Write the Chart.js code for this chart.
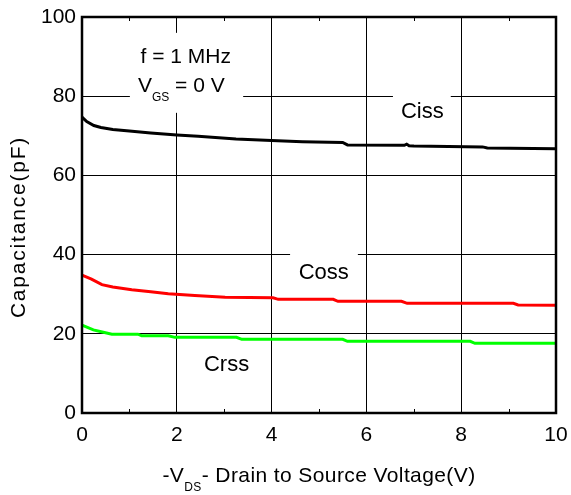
<!DOCTYPE html>
<html>
<head>
<meta charset="utf-8">
<script src="https://cdn.jsdelivr.net/npm/chart.js@4/dist/chart.umd.min.js"></script>
<style>
  html, body { margin: 0; padding: 0; background: #fff; }
</style>
</head>
<body>
<canvas id="capChart" width="571" height="495"></canvas>
<script>
// Axis ticks
const xTicks = [0, 2, 4, 6, 8, 10];
const yTicks = [0, 20, 40, 60, 80, 100];
const minorX = [1, 3, 5, 7, 9];

// Ciss curve (V, pF)
const cissV = [0, 0.1, 0.25, 0.4, 0.65, 1.0, 1.45, 2.0, 2.45, 3.25, 4.0, 4.65, 5.5, 5.6, 6.8, 6.85, 6.9, 7.0, 8.45, 8.55, 10];
const cissC = [74.7, 73.6, 72.6, 72.1, 71.6, 71.2, 70.7, 70.2, 69.9, 69.2, 68.8, 68.5, 68.3, 67.7, 67.6, 67.9, 67.5, 67.4, 67.2, 66.9, 66.7];

// Coss curve
const cossV = [0, 0.2, 0.42, 0.65, 1.05, 1.45, 1.82, 2.38, 3.02, 4.03, 4.14, 5.3, 5.4, 6.74, 6.86, 9.1, 9.2, 10];
const cossC = [34.8, 33.8, 32.4, 31.8, 31.1, 30.6, 30.1, 29.7, 29.2, 29.1, 28.7, 28.7, 28.2, 28.2, 27.7, 27.7, 27.3, 27.2];

// Crss curve
const crssV = [0, 0.24, 0.45, 0.63, 1.18, 1.26, 1.82, 1.96, 3.26, 3.37, 5.5, 5.6, 8.19, 8.29, 10];
const crssC = [22.2, 21.0, 20.4, 19.9, 19.9, 19.5, 19.5, 19.1, 19.1, 18.6, 18.6, 18.1, 18.1, 17.6, 17.6];

const FONT = "'Liberation Sans', Arial, sans-serif";

function toPoints(xs, ys) {
    return xs.map((v, i) => ({ x: v, y: ys[i] }));
}

// draws a run of [text, isSub] pieces starting at x, baseline y
function drawRich(ctx, parts, x, y, size, subSize, align) {
    const widths = parts.map(p => {
        ctx.font = (p[1] ? subSize : size) + 'px ' + FONT;
        return ctx.measureText(p[0]).width;
    });
    const total = widths.reduce((a, b) => a + b, 0);
    let cx = align === 'center' ? x - total / 2 : x;
    ctx.textAlign = 'left';
    ctx.textBaseline = 'alphabetic';
    parts.forEach((p, i) => {
        ctx.font = (p[1] ? subSize : size) + 'px ' + FONT;
        ctx.fillText(p[0], cx, p[1] ? y + 9 : y);
        cx += widths[i];
    });
}

const decorPlugin = {
    id: 'decor',
    beforeDatasetsDraw(chart) {
        const { ctx, scales: { x, y }, chartArea } = chart;
        ctx.save();

        // white boxes that break the grid behind the labels
        ctx.fillStyle = '#fff';
        const gaps = [
            [1.01, 3.40, 96, 75.8],
            [6.56, 7.78, 82, 77.5],
            [4.39, 5.82, 41.7, 37.1]
        ];
        gaps.forEach(g => {
            const x0 = x.getPixelForValue(g[0]), x1 = x.getPixelForValue(g[1]);
            const y0 = y.getPixelForValue(g[2]), y1 = y.getPixelForValue(g[3]);
            ctx.fillRect(x0, y0, x1 - x0, y1 - y0);
        });

        // minor ticks on top and bottom
        ctx.strokeStyle = '#000';
        ctx.lineWidth = 1;
        minorX.forEach(v => {
            const px = Math.round(x.getPixelForValue(v)) + 0.5;
            ctx.beginPath();
            ctx.moveTo(px, chartArea.bottom);
            ctx.lineTo(px, chartArea.bottom - 4);
            ctx.moveTo(px, chartArea.top);
            ctx.lineTo(px, chartArea.top + 4);
            ctx.stroke();
        });

        // labels
        ctx.fillStyle = '#000';
        ctx.font = '21px ' + FONT;
        ctx.textAlign = 'center';
        ctx.textBaseline = 'alphabetic';
        ctx.fillText('f = 1 MHz', x.getPixelForValue(2.19), y.getPixelForValue(88.4));
        drawRich(ctx, [['V', false], ['GS', true], [' = 0 V', false]],
            x.getPixelForValue(1.18), y.getPixelForValue(81.1), 21, 12, 'left');

        ctx.font = '22px ' + FONT;
        ctx.textAlign = 'center';
        ctx.textBaseline = 'middle';
        ctx.fillText('Ciss', x.getPixelForValue(7.18), y.getPixelForValue(76));
        ctx.fillText('Coss', x.getPixelForValue(5.1), y.getPixelForValue(35.4));
        ctx.fillText('Crss', x.getPixelForValue(3.05), y.getPixelForValue(12.1));
        ctx.restore();
    },
    afterDraw(chart) {
        const { ctx, chartArea } = chart;
        ctx.save();
        // frame
        ctx.strokeStyle = '#000';
        ctx.lineWidth = 2.5;
        ctx.strokeRect(chartArea.left, chartArea.top, chartArea.right - chartArea.left, chartArea.bottom - chartArea.top);

        // axis titles
        ctx.fillStyle = '#000';
        ctx.letterSpacing = '0.4px';
        drawRich(ctx, [['-V', false], ['DS', true], ['- Drain to Source Voltage(V)', false]],
            (chartArea.left + chartArea.right) / 2, 482, 21, 12, 'center');

        ctx.translate(19, 227);
        ctx.rotate(-Math.PI / 2);
        ctx.font = '21px ' + FONT;
        ctx.letterSpacing = '1.8px';
        ctx.textAlign = 'center';
        ctx.textBaseline = 'middle';
        ctx.fillText('Capacitance(pF)', 0, 0);
        ctx.restore();
    }
};

new Chart(document.getElementById('capChart'), {
    type: 'line',
    data: {
        datasets: [{
            label: 'Ciss',
            data: toPoints(cissV, cissC),
            borderColor: '#000000',
            borderWidth: 3
        }, {
            label: 'Coss',
            data: toPoints(cossV, cossC),
            borderColor: '#ff0000',
            borderWidth: 3
        }, {
            label: 'Crss',
            data: toPoints(crssV, crssC),
            borderColor: '#00ff00',
            borderWidth: 3
        }]
    },
    options: {
        responsive: false,
        animation: false,
        layout: {
            padding: { top: 17, right: 15, left: 0, bottom: 0 }
        },
        elements: {
            point: { radius: 0 },
            line: { tension: 0, fill: false }
        },
        plugins: {
            legend: { display: false },
            tooltip: { enabled: false }
        },
        scales: {
            x: {
                type: 'linear',
                min: 0,
                max: 10,
                afterBuildTicks: scale => {
                    scale.ticks = xTicks.map(v => ({ value: v }));
                },
                afterFit: scale => {
                    scale.height = 82;
                    scale.paddingLeft = 0;
                    scale.paddingRight = 0;
                },
                border: { display: false },
                grid: {
                    color: '#000',
                    lineWidth: 1,
                    drawTicks: false
                },
                ticks: {
                    padding: 10,
                    color: '#000',
                    maxRotation: 0,
                    font: { size: 21, family: FONT }
                }
            },
            y: {
                type: 'linear',
                min: 0,
                max: 100,
                afterBuildTicks: scale => {
                    scale.ticks = yTicks.map(v => ({ value: v }));
                },
                afterFit: scale => {
                    scale.width = 82;
                    scale.paddingTop = 0;
                    scale.paddingBottom = 0;
                },
                border: { display: false },
                grid: {
                    color: '#000',
                    lineWidth: 1,
                    drawTicks: false
                },
                ticks: {
                    padding: 6,
                    color: '#000',
                    font: { size: 21, family: FONT }
                }
            }
        }
    },
    plugins: [decorPlugin]
});
</script>
</body>
</html>
